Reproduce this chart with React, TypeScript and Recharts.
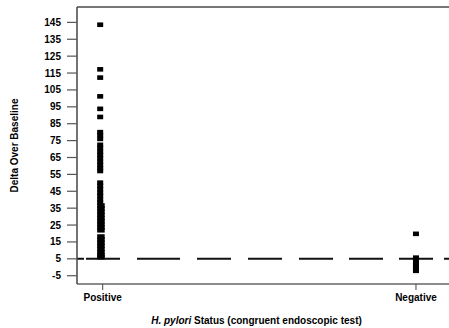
import React from "react";
import {
  ScatterChart,
  Scatter,
  XAxis,
  YAxis,
  ReferenceLine,
  Label,
} from "recharts";

const categories = ["Positive", "Negative"];

// positive group, isolated high values + the dense column above ~38
const positiveValues = [
  143.6, 117.2, 112.3, 101.2, 93.8, 89.0, 80.0, 78.1, 76.0, 72.5, 70.6, 68.4,
  66.5, 64.6, 62.4, 60.5, 58.6, 57.0, 50.1, 48.3, 46.2, 44.0, 42.4, 40.1, 38.3,
];
// heavily overlapping points near the bottom of the positive column
const positiveDenseValues = [
  36.6, 34.8, 32.9, 31.0, 29.1, 27.3, 25.4, 23.6, 21.9, 18.2, 16.4, 14.5, 12.7,
  10.8, 8.9, 7.1, 6.0,
];
const negativeValues = [19.8, 5.7, 3.8, 2.0, 0.1, -1.0, -2.1];

const yTicks = [-5, 5, 15, 25, 35, 45, 55, 65, 75, 85, 95, 105, 115, 125, 135, 145];
const threshold = 5;
const yDomain = [-9.9, 154.1];
const xDomain = [-0.082, 1.198];

const font = "'Liberation Sans', Arial, sans-serif";

const toPoints = (idx: number, vals: number[]) => vals.map((v) => ({ x: idx, y: v }));

const square = (dx: number, w: number) => (props: any) => {
  const { cx, cy } = props;
  if (cx == null || cy == null) return <g />;
  return <rect x={cx + dx} y={cy - 2.3} width={w} height={4.6} fill="#000" />;
};

const XTitle = (props: any) => {
  const vb = props.viewBox || { x: 77, y: 284 };
  return (
    <text
      x={vb.x + 179.5}
      y={vb.y + 40}
      textAnchor="middle"
      fontFamily={font}
      fontSize={10}
      fontWeight="bold"
      fill="#000"
    >
      <tspan fontStyle="italic">H. pylori</tspan>
      <tspan> Status (congruent endoscopic test)</tspan>
    </text>
  );
};

const YTitle = (props: any) => {
  const vb = props.viewBox || { x: 0, y: 7, height: 277 };
  const cy = vb.y + vb.height / 2;
  return (
    <text
      x={18}
      y={cy}
      transform={`rotate(-90, 18, ${cy})`}
      textAnchor="middle"
      fontFamily={font}
      fontSize={10}
      fontWeight="bold"
      fill="#000"
    >
      Delta Over Baseline
    </text>
  );
};

export default function App() {
  const tickStyle = { fontFamily: font, fontSize: 10, fontWeight: "bold", fill: "#000" };
  return (
    <div
      style={{
        position: "absolute",
        left: 0,
        top: 0,
        width: 449,
        height: 328,
        overflow: "hidden",
        background: "#fff",
      }}
    >
      <ScatterChart
        width={490}
        height={328}
        margin={{ top: 7, right: 12, bottom: 0, left: 0 }}
      >
        <XAxis
          type="number"
          dataKey="x"
          domain={xDomain}
          ticks={[0, 1]}
          tickFormatter={(v: number) => categories[v] ?? ""}
          allowDataOverflow
          height={44}
          tickSize={6}
          tickMargin={4}
          tick={tickStyle}
          stroke="#666"
          axisLine={{ stroke: "#666", strokeWidth: 1.5 }}
          tickLine={{ stroke: "#444" }}
        >
          <Label content={<XTitle />} />
        </XAxis>
        <YAxis
          type="number"
          dataKey="y"
          domain={yDomain}
          ticks={yTicks}
          allowDataOverflow
          width={77}
          tickSize={10}
          tickMargin={6}
          tick={tickStyle}
          axisLine={{ stroke: "#444", strokeWidth: 1.5 }}
          tickLine={{ stroke: "#555", strokeWidth: 1.2 }}
        >
          <Label content={<YTitle />} />
        </YAxis>
        <ReferenceLine y={yDomain[1]} stroke="#777" strokeWidth={2} />
        <ReferenceLine
          y={threshold}
          stroke="#111"
          strokeWidth={2}
          strokeDasharray="7 2 34 17 43 17 34 17 34 17 34 16 34 16 34 11 100"
        />
        <Scatter
          data={toPoints(0, positiveValues)}
          shape={square(-5.5, 6)}
          isAnimationActive={false}
        />
        <Scatter
          data={toPoints(0, positiveDenseValues)}
          shape={square(-5.5, 7.5)}
          isAnimationActive={false}
        />
        <Scatter
          data={toPoints(1, negativeValues)}
          shape={square(-3, 6)}
          isAnimationActive={false}
        />
      </ScatterChart>
    </div>
  );
}
